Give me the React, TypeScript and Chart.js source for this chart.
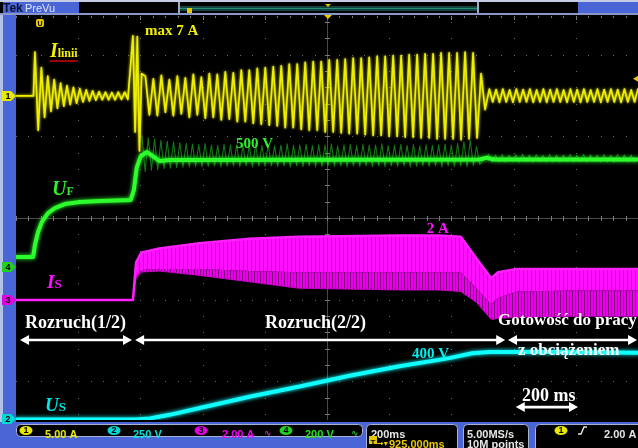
import { useEffect, useRef } from "react";
import { Chart, registerables } from "chart.js";

Chart.register(...registerables);

// Time base: 200 ms per division, ten divisions across the screen
const TIME_SPAN_MS = 2000;
const MS_PER_DIV = 200;

// Vertical axis in trace divisions; the graticule rows sit every 1.9 of them
const Y_HALF_SPAN = 4.7;
const GRATICULE_ROW = 1.9;

// Channel gains (units per division) and ground markers (divisions from centre)
const CH1 = { perDiv: 5, offset: 2.84 }; // I linii [A]
const CH2 = { perDiv: 250, offset: -4.72 }; // U_S [V]
const CH3 = { perDiv: 2, offset: -1.91 }; // I_S [A]
const CH4 = { perDiv: 200, offset: -1.14 }; // U_F [V]

// ---- I linii [A] (channel 1) ----
const iLiniiIdleMs = [0, 56];
const iLiniiIdleA = [0, 0];
// first inrush, half-wave peaks
const iLiniiInrushStartMs = 61;
const iLiniiInrushStepMs = 10.3;
const iLiniiInrushA = [
  5.1, -4.0, 3.3, -2.5, 2.3, -1.8, 1.9, -1.45, 1.5, -1.2,
  1.2, -1.0, 1.0, -0.85, 0.85, -0.7, 0.7, -0.6, 0.6, -0.5,
  0.5, -0.45, 0.45, -0.45, 0.4, -0.45, 0.45, -0.4, 0.45, -0.4,
];
// second switching transient (max 7 A)
const iLiniiSpikeStartMs = 376;
const iLiniiSpikeStepMs = 7;
const iLiniiSpikeA = [7.0, -4.2, 6.9, -6.4, 2.6];
// start-up, stage 2
const iLiniiRunStartMs = 416;
const iLiniiRunStepMs = 12.85;
const iLiniiRunA = [
  2.3, -2.2, 2.0, -2.3, 2.4, -1.9, 1.9, -2.3, 2.3, -2.1,
  2.1, -2.5, 2.5, -2.2, 2.2, -2.6, 2.6, -2.5, 2.5, -2.8,
  2.8, -2.7, 2.7, -3.0, 3.0, -3.0, 3.0, -3.2, 3.2, -3.3,
  3.3, -3.4, 3.4, -3.5, 3.5, -3.7, 3.7, -3.7, 3.7, -3.9,
  3.9, -4.0, 4.0, -4.0, 4.0, -4.2, 4.2, -4.2, 4.2, -4.3,
  4.3, -4.4, 4.4, -4.4, 4.4, -4.5, 4.5, -4.6, 4.6, -4.6,
  4.6, -4.7, 4.7, -4.7, 4.7, -4.8, 4.8, -4.8, 4.8, -4.9,
  4.9, -4.9, 4.9, -5.0, 5.0, -5.0, 5.0, -5.0, 5.0, -5.1,
  5.1, -5.0, 5.0, -4.9, 2.6, -1.6,
];
// ready for load
const iLiniiReadyStartMs = 1522;
const iLiniiReadyStepMs = 10.86;
const iLiniiReadyA = [
  0.8, -0.7, 0.75, -0.75, 0.8, -0.7, 0.7, -0.75, 0.8, -0.7,
  0.75, -0.7, 0.8, -0.75, 0.7, -0.7, 0.8, -0.75, 0.75, -0.7,
  0.8, -0.7, 0.7, -0.75, 0.8, -0.7, 0.75, -0.75, 0.8, -0.7,
  0.7, -0.7, 0.8, -0.75, 0.75, -0.7, 0.8, -0.7, 0.75, -0.75,
  0.8, -0.7, 0.7, -0.7, 0.8,
];

// ---- U_F [V] (channel 4) ----
const ufTimeMs = [0, 55, 61, 71, 83, 103, 125, 157, 205, 270, 369, 379, 388, 401, 421, 440, 462, 494, 1490, 1512, 1538, 2000];
const ufV = [46, 46, 102, 163, 209, 251, 274, 293, 302, 307, 312, 358, 460, 516, 535, 516, 493, 498, 500, 508, 500, 500];
const ufRippleStartMs = 405;
const ufRippleStepMs = 10.15;
const ufRippleV = [
  610, 445, 602, 450, 596, 452, 590, 458, 586, 460,
  582, 462, 578, 464, 575, 466, 572, 468, 570, 466,
  574, 468, 568, 470, 566, 466, 571, 469, 567, 470,
  569, 467, 565, 471, 568, 466, 572, 469, 566, 468,
  570, 470, 564, 468, 567, 471, 573, 466, 566, 470,
  568, 467, 571, 470, 565, 466, 569, 468, 567, 471,
  572, 468, 564, 470, 569, 466, 571, 470, 565, 468,
  570, 471, 566, 467, 568, 470, 573, 466, 565, 470,
  567, 468, 571, 471, 566, 466, 570, 468, 564, 470,
  569, 468, 566, 470, 568, 466, 572, 471, 567, 468,
  576, 470, 582, 466, 588, 472, 562, 478,
];
const ufReadyRippleStartMs = 1520;
const ufReadyRippleStepMs = 10.9;
const ufReadyRippleV = [
  524, 489, 521, 490, 523, 488, 520, 491, 522, 489,
  525, 490, 521, 488, 523, 491, 520, 489, 524, 490,
  522, 488, 521, 491, 523, 489, 520, 490, 524, 488,
  522, 491, 521, 489, 523, 490, 520, 488, 524, 491,
  522, 489, 521, 490,
];

// ---- I_S [A] (channel 3): envelope of the switching current ----
const isTimeMs = [0, 376, 386, 402, 460, 590, 750, 910, 1230, 1360, 1430, 1480, 1528, 1550, 1610, 1800, 2000];
const isTopA = [0, 0, 1.75, 2.2, 2.4, 2.65, 2.85, 2.95, 3.0, 3.0, 2.95, 1.95, 1.02, 1.3, 1.45, 1.45, 1.45];
const isCoreA = [0, 0, 1.1, 1.4, 1.45, 1.45, 1.35, 1.3, 1.3, 1.3, 1.3, 0.55, -0.2, 0.1, 0.4, 0.45, 0.45];
const isBottomA = [0, 0, 1.0, 1.3, 1.35, 1.15, 0.85, 0.55, 0.47, 0.47, 0.4, -0.1, -0.9, -0.85, -0.8, -0.75, -0.75];

// ---- U_S [V] (channel 2) ----
const usTimeMs = [0, 385, 430, 494, 591, 751, 912, 1072, 1233, 1393, 1467, 1522, 1746, 2000];
const usV = [8, 8, 14, 35, 75, 140, 200, 262, 318, 365, 393, 400, 400, 396];

const SERIF = '"Liberation Serif", "Times New Roman", serif';
const SANS = '"Liberation Sans", Arial, sans-serif';
const BLUE = "#4a66d6";

type Pt = { x: number; y: number };
const sampled = (t0: number, step: number, values: number[]) =>
  values.map((v, i) => ({ t: t0 + i * step, v }));
const paired = (times: number[], values: number[]) => times.map((t, i) => ({ t, v: values[i] }));
const toTrace = (rows: { t: number; v: number }[], ch: { perDiv: number; offset: number }): Pt[] =>
  rows.map((r) => ({ x: r.t, y: ch.offset + r.v / ch.perDiv }));

type Note = {
  text: string;
  t: number;
  y: number;
  color: string;
  font: string;
  sub?: string;
  subFont?: string;
  underline?: string;
};

const notes: Note[] = [
  { text: "max 7 A", t: 415, y: 4.26, color: "#f2f200", font: `bold 15px ${SERIF}` },
  { text: "I", sub: "linii", t: 109, y: 3.74, color: "#f2f200", font: `italic bold 20px ${SERIF}`, subFont: `bold 12px ${SERIF}`, underline: "#d00000" },
  { text: "500 V", t: 707, y: 1.63, color: "#2ef02e", font: `bold 15px ${SERIF}` },
  { text: "U", sub: "F", t: 116, y: 0.53, color: "#2ef02e", font: `italic bold 20px ${SERIF}`, subFont: `bold 12px ${SERIF}` },
  { text: "I", sub: "S", t: 100, y: -1.63, color: "#ff10ff", font: `italic bold 19px ${SERIF}`, subFont: `bold 13px ${SERIF}` },
  { text: "2 A", t: 1321, y: -0.36, color: "#ff10ff", font: `bold 15px ${SERIF}` },
  { text: "Rozruch(1/2)", t: 29, y: -2.56, color: "#ffffff", font: `bold 18px ${SERIF}` },
  { text: "Rozruch(2/2)", t: 801, y: -2.56, color: "#ffffff", font: `bold 18px ${SERIF}` },
  { text: "Gotowość do pracy", t: 1550, y: -2.49, color: "#ffffff", font: `bold 17px ${SERIF}` },
  { text: "z obciążeniem", t: 1614, y: -3.19, color: "#ffffff", font: `bold 17px ${SERIF}` },
  { text: "400 V", t: 1273, y: -3.26, color: "#00f0f0", font: `bold 15px ${SERIF}` },
  { text: "200 ms", t: 1627, y: -4.26, color: "#ffffff", font: `bold 18px ${SERIF}` },
  { text: "U", sub: "S", t: 93, y: -4.49, color: "#00e8e8", font: `italic bold 19px ${SERIF}`, subFont: `bold 13px ${SERIF}` },
];

// double-headed arrows: [from ms, to ms, level in divisions]
const arrows: [number, number, number][] = [
  [13, 373, -2.84],
  [383, 1573, -2.84],
  [1582, 1997, -2.84],
  [1607, 1807, -4.4],
];

function stripes(fg: string, bg: string, period: number, on: number) {
  const c = document.createElement("canvas");
  c.width = period;
  c.height = 4;
  const g = c.getContext("2d")!;
  g.fillStyle = bg;
  g.fillRect(0, 0, period, 4);
  g.fillStyle = fg;
  g.fillRect(0, 0, on, 4);
  return g.createPattern(c, "repeat")!;
}

function drawArrow(ctx: CanvasRenderingContext2D, x1: number, x2: number, y: number) {
  const head = 9;
  const half = 5;
  ctx.strokeStyle = "#ffffff";
  ctx.fillStyle = "#ffffff";
  ctx.lineWidth = 2.6;
  ctx.beginPath();
  ctx.moveTo(x1 + head - 1, y);
  ctx.lineTo(x2 - head + 1, y);
  ctx.stroke();
  ctx.beginPath();
  ctx.moveTo(x1, y);
  ctx.lineTo(x1 + head, y - half);
  ctx.lineTo(x1 + head, y + half);
  ctx.closePath();
  ctx.fill();
  ctx.beginPath();
  ctx.moveTo(x2, y);
  ctx.lineTo(x2 - head, y - half);
  ctx.lineTo(x2 - head, y + half);
  ctx.closePath();
  ctx.fill();
}

function channelMarker(ctx: CanvasRenderingContext2D, y: number, color: string, label: string) {
  ctx.beginPath();
  ctx.moveTo(2, y - 5);
  ctx.lineTo(11, y - 5);
  ctx.lineTo(16, y);
  ctx.lineTo(11, y + 5);
  ctx.lineTo(2, y + 5);
  ctx.closePath();
  ctx.fillStyle = color;
  ctx.fill();
  ctx.fillStyle = "#000";
  ctx.font = `bold 9px ${SANS}`;
  ctx.textAlign = "center";
  ctx.textBaseline = "middle";
  ctx.fillText(label, 8, y + 0.5);
}

function chip(ctx: CanvasRenderingContext2D, cx: number, cy: number, color: string, label: string) {
  ctx.beginPath();
  ctx.ellipse(cx, cy, 6.5, 4.6, 0, 0, Math.PI * 2);
  ctx.fillStyle = color;
  ctx.fill();
  ctx.fillStyle = "#000";
  ctx.font = `bold 9px ${SANS}`;
  ctx.textAlign = "center";
  ctx.textBaseline = "middle";
  ctx.fillText(label, cx, cy + 0.5);
}

function box(ctx: CanvasRenderingContext2D, x: number, y: number, w: number, h: number) {
  ctx.beginPath();
  ctx.roundRect(x, y, w, h, 4);
  ctx.fillStyle = "#000";
  ctx.fill();
  ctx.strokeStyle = "#a8b2d4";
  ctx.lineWidth = 1;
  ctx.stroke();
}

const scopePlugin = {
  id: "scopeScreen",
  beforeDraw(chart: Chart) {
    const ctx = chart.ctx;
    const W = chart.width;
    ctx.save();
    ctx.fillStyle = "#000";
    ctx.fillRect(0, 0, W, chart.height);
    // top status strip
    ctx.fillStyle = "#c4cce6";
    ctx.fillRect(0, 0, W, 2);
    ctx.fillStyle = BLUE;
    ctx.fillRect(3, 2, 76, 11);
    ctx.fillRect(578, 2, W - 578, 11);
    ctx.font = `bold 12px ${SANS}`;
    ctx.textAlign = "left";
    ctx.textBaseline = "alphabetic";
    ctx.fillStyle = "#0a1030";
    ctx.fillText("Tek", 3, 12);
    ctx.font = `11px ${SANS}`;
    ctx.fillStyle = "#dfe6ff";
    ctx.fillText("PreVu", 25, 12);
    ctx.fillStyle = "#a0a8c4";
    ctx.fillRect(178, 2, 2, 12);
    ctx.fillRect(477, 2, 2, 12);
    ctx.fillStyle = "#10463f";
    ctx.fillRect(180, 6, 297, 5);
    ctx.fillStyle = "#2a8a78";
    ctx.fillRect(180, 8, 297, 1);
    ctx.fillStyle = "#8a98c8";
    ctx.fillRect(0, 13, W, 2);
    // record markers in the strip
    ctx.fillStyle = "#e8c800";
    ctx.fillRect(187, 8, 5, 5);
    ctx.beginPath();
    ctx.moveTo(325, 4);
    ctx.lineTo(331, 4);
    ctx.lineTo(328, 7);
    ctx.closePath();
    ctx.fill();
    ctx.restore();
  },
  beforeDatasetsDraw(chart: Chart) {
    const ctx = chart.ctx;
    const { left, right, top, bottom } = chart.chartArea;
    const xs = chart.scales.x;
    const ys = chart.scales.y;
    const colStep = xs.getPixelForValue(MS_PER_DIV) - xs.getPixelForValue(0);
    const rowStep = ys.getPixelForValue(0) - ys.getPixelForValue(GRATICULE_ROW);
    const cx = xs.getPixelForValue(TIME_SPAN_MS / 2);
    const cy = ys.getPixelForValue(0);
    ctx.save();
    ctx.fillStyle = "#6a6a6a";
    // dotted columns
    for (let k = 1; k < TIME_SPAN_MS / MS_PER_DIV; k++) {
      const x = Math.round(xs.getPixelForValue(k * MS_PER_DIV));
      if (Math.abs(x - cx) < 2) continue;
      for (let y = cy; y > top; y -= rowStep / 5) ctx.fillRect(x, Math.round(y), 1, 1);
      for (let y = cy + rowStep / 5; y < bottom; y += rowStep / 5) ctx.fillRect(x, Math.round(y), 1, 1);
    }
    // dotted rows
    for (let r = -2; r <= 2; r++) {
      if (r === 0) continue;
      const y = Math.round(ys.getPixelForValue(r * GRATICULE_ROW));
      for (let x = left; x < right; x += colStep / 5) ctx.fillRect(Math.round(x), y, 1, 1);
    }
    // centre cross with minor ticks
    ctx.fillStyle = "#4a4a4a";
    ctx.fillRect(left, Math.round(cy), right - left, 1);
    ctx.fillRect(Math.round(cx), top, 1, bottom - top);
    ctx.fillStyle = "#7a7a7a";
    for (let x = left; x < right; x += colStep / 5) ctx.fillRect(Math.round(x), Math.round(cy) - 2, 1, 5);
    for (let y = cy; y > top; y -= rowStep / 5) ctx.fillRect(Math.round(cx) - 2, Math.round(y), 5, 1);
    for (let y = cy; y < bottom; y += rowStep / 5) ctx.fillRect(Math.round(cx) - 2, Math.round(y), 5, 1);
    // edge ticks
    for (let x = left; x < right; x += colStep / 5) ctx.fillRect(Math.round(x), top, 1, 2);
    for (let k = 1; k < 10; k++) ctx.fillRect(Math.round(xs.getPixelForValue(k * MS_PER_DIV)), top, 1, 4);
    ctx.restore();
  },
  beforeDatasetDraw(chart: Chart, args: { index: number }) {
    const ds = chart.data.datasets[args.index] as { glow?: number; borderColor?: string };
    if (ds.glow) {
      chart.ctx.save();
      chart.ctx.shadowColor = ds.borderColor as string;
      chart.ctx.shadowBlur = ds.glow;
    }
  },
  afterDatasetDraw(chart: Chart, args: { index: number }) {
    const ds = chart.data.datasets[args.index] as { glow?: number };
    if (ds.glow) chart.ctx.restore();
  },
  afterDatasetsDraw(chart: Chart) {
    const ctx = chart.ctx;
    const xs = chart.scales.x;
    const ys = chart.scales.y;
    ctx.save();
    ctx.textAlign = "left";
    ctx.textBaseline = "alphabetic";
    for (const n of notes) {
      const x = xs.getPixelForValue(n.t);
      const y = ys.getPixelForValue(n.y);
      ctx.font = n.font;
      ctx.fillStyle = n.color;
      ctx.fillText(n.text, x, y);
      let end = x + ctx.measureText(n.text).width;
      if (n.sub) {
        ctx.font = n.subFont as string;
        ctx.fillText(n.sub, end, y);
        end += ctx.measureText(n.sub).width;
      }
      if (n.underline) {
        ctx.fillStyle = n.underline;
        ctx.fillRect(x, y + 3, end - x, 1.5);
      }
    }
    for (const [a, b, lvl] of arrows) {
      drawArrow(ctx, xs.getPixelForValue(a), xs.getPixelForValue(b), ys.getPixelForValue(lvl));
    }
    // trigger point and trigger level markers
    ctx.fillStyle = "#e8c800";
    ctx.beginPath();
    ctx.roundRect(36, 19, 8, 8, 2);
    ctx.fill();
    ctx.fillStyle = "#000";
    ctx.font = `bold 7px ${SANS}`;
    ctx.textAlign = "center";
    ctx.fillText("U", 40, 26);
    ctx.fillStyle = "#e8c800";
    ctx.beginPath();
    ctx.moveTo(324, 15);
    ctx.lineTo(332, 15);
    ctx.lineTo(328, 19);
    ctx.closePath();
    ctx.fill();
    const trig = ys.getPixelForValue(CH1.offset + 2 / CH1.perDiv);
    ctx.beginPath();
    ctx.moveTo(633, trig);
    ctx.lineTo(638, trig - 3);
    ctx.lineTo(638, trig + 3);
    ctx.closePath();
    ctx.fill();
    ctx.restore();
  },
  afterDraw(chart: Chart) {
    const ctx = chart.ctx;
    const W = chart.width;
    const H = chart.height;
    const ys = chart.scales.y;
    ctx.save();
    // side and bottom frame
    ctx.fillStyle = "#b4c0e4";
    ctx.fillRect(0, 15, 3, H - 15);
    ctx.fillStyle = BLUE;
    ctx.fillRect(3, 15, 13, H - 15);
    ctx.fillRect(0, 422, W, H - 422);
    channelMarker(ctx, ys.getPixelForValue(CH1.offset), "#e8e800", "1");
    channelMarker(ctx, ys.getPixelForValue(CH4.offset), "#22d022", "4");
    channelMarker(ctx, ys.getPixelForValue(CH3.offset), "#e000e0", "3");
    channelMarker(ctx, Math.min(ys.getPixelForValue(CH2.offset), 419), "#00d8d8", "2");

    // vertical settings readout
    box(ctx, 16.5, 424.5, 346, 12);
    ctx.font = `bold 11px ${SANS}`;
    ctx.textBaseline = "alphabetic";
    chip(ctx, 26, 430.5, "#e8e800", "1");
    chip(ctx, 114, 430.5, "#00d8d8", "2");
    chip(ctx, 201, 430.5, "#e000e0", "3");
    chip(ctx, 286, 430.5, "#22d022", "4");
    ctx.font = `bold 11px ${SANS}`;
    ctx.textAlign = "left";
    ctx.fillStyle = "#e8e800";
    ctx.fillText("5.00 A", 45, 434.5);
    ctx.fillStyle = "#00e0e0";
    ctx.fillText("250 V", 133, 434.5);
    ctx.fillStyle = "#f000f0";
    ctx.fillText("2.00 A", 222, 434.5);
    ctx.fillStyle = "#22e022";
    ctx.fillText("200 V", 305, 434.5);
    ctx.font = `bold 9px "DejaVu Sans", sans-serif`;
    ctx.fillStyle = "#c030c0";
    ctx.fillText("∿", 264, 434);
    ctx.fillStyle = "#22c022";
    ctx.fillText("∿", 351, 434);

    // horizontal readout
    box(ctx, 366.5, 424.5, 91, 28);
    box(ctx, 463.5, 424.5, 65, 28);
    box(ctx, 535.5, 424.5, 110, 28);
    ctx.font = `bold 11px ${SANS}`;
    ctx.fillStyle = "#e6e6e6";
    ctx.fillText("200ms", 371, 434.5);
    ctx.fillText("5.00MS/s", 467, 434.5);
    ctx.fillText("10M points", 467, 445);
    ctx.fillStyle = "#e8c800";
    ctx.fillRect(369, 436, 8, 8);
    ctx.fillStyle = "#000";
    ctx.font = `bold 8px ${SANS}`;
    ctx.textAlign = "center";
    ctx.fillText("T", 373, 443);
    ctx.textAlign = "left";
    ctx.fillStyle = "#e8c800";
    ctx.font = `bold 8px "DejaVu Sans", sans-serif`;
    ctx.fillText("→▾", 377, 444);
    ctx.font = `bold 11px ${SANS}`;
    ctx.fillText("925.000ms", 389, 445);

    // trigger readout
    chip(ctx, 561, 430.5, "#e8e800", "1");
    ctx.strokeStyle = "#e6e6e6";
    ctx.lineWidth = 1.4;
    ctx.beginPath();
    ctx.moveTo(578, 434);
    ctx.lineTo(581, 434);
    ctx.lineTo(584, 427);
    ctx.lineTo(587, 427);
    ctx.stroke();
    ctx.font = `bold 11px ${SANS}`;
    ctx.textAlign = "left";
    ctx.fillStyle = "#e6e6e6";
    ctx.fillText("2.00 A", 604, 434.5);
    ctx.restore();
  },
};

export default function App() {
  const canvasRef = useRef<HTMLCanvasElement | null>(null);

  useEffect(() => {
    const canvas = canvasRef.current;
    if (!canvas) return;

    const iLinii = [
      ...toTrace(paired(iLiniiIdleMs, iLiniiIdleA), CH1),
      ...toTrace(sampled(iLiniiInrushStartMs, iLiniiInrushStepMs, iLiniiInrushA), CH1),
      ...toTrace(sampled(iLiniiSpikeStartMs, iLiniiSpikeStepMs, iLiniiSpikeA), CH1),
      ...toTrace(sampled(iLiniiRunStartMs, iLiniiRunStepMs, iLiniiRunA), CH1),
      ...toTrace(sampled(iLiniiReadyStartMs, iLiniiReadyStepMs, iLiniiReadyA), CH1),
    ];
    const ufMean = toTrace(paired(ufTimeMs, ufV), CH4);
    const ufRipple = [
      ...toTrace(sampled(ufRippleStartMs, ufRippleStepMs, ufRippleV), CH4),
      ...toTrace(sampled(ufReadyRippleStartMs, ufReadyRippleStepMs, ufReadyRippleV), CH4),
    ];
    const us = toTrace(paired(usTimeMs, usV), CH2);
    const isTop = toTrace(paired(isTimeMs, isTopA), CH3);
    const isCore = toTrace(paired(isTimeMs, isCoreA), CH3);
    const isBottom = toTrace(paired(isTimeMs, isBottomA), CH3);

    const chart = new Chart(canvas, {
      type: "line",
      data: {
        datasets: [
          { label: "I linii", data: iLinii, borderColor: "#eeee00", borderWidth: 1.7, order: 1, glow: 3 } as any,
          { label: "U_F", data: ufMean, borderColor: "#2cff2c", borderWidth: 4, order: 5, glow: 4 } as any,
          { label: "U_F ripple", data: ufRipple, borderColor: "rgba(40,235,40,0.5)", borderWidth: 1.1, order: 6 },
          { label: "U_S", data: us, borderColor: "#10ffff", borderWidth: 4, order: 7, glow: 4 } as any,
          { label: "I_S max", data: isTop, borderColor: "#ff20ff", borderWidth: 2.5, order: 8 },
          {
            label: "I_S core",
            data: isCore,
            borderColor: "rgba(0,0,0,0)",
            borderWidth: 0,
            fill: 4,
            backgroundColor: stripes("#ff10ff", "#d800d8", 4, 3),
            order: 9,
          },
          {
            label: "I_S min",
            data: isBottom,
            borderColor: "rgba(220,0,220,0.8)",
            borderWidth: 1,
            fill: 5,
            backgroundColor: stripes("#e800e8", "#800080", 3, 2),
            order: 10,
          },
        ],
      },
      options: {
        animation: false,
        responsive: false,
        maintainAspectRatio: false,
        events: [],
        layout: { padding: { left: 16, top: 16, right: 0, bottom: 28 } },
        scales: {
          x: { type: "linear", min: 0, max: TIME_SPAN_MS, display: false },
          y: { type: "linear", min: -Y_HALF_SPAN, max: Y_HALF_SPAN, display: false },
        },
        elements: {
          point: { radius: 0 },
          line: { tension: 0, borderJoinStyle: "round", borderCapStyle: "round" },
        },
        plugins: {
          legend: { display: false },
          tooltip: { enabled: false },
        },
      },
      plugins: [scopePlugin as any],
    });

    return () => chart.destroy();
  }, []);

  return (
    <div style={{ position: "fixed", left: 0, top: 0, width: 638, height: 448, background: "#000" }}>
      <canvas ref={canvasRef} width={638} height={448} style={{ display: "block", width: 638, height: 448 }} />
    </div>
  );
}
